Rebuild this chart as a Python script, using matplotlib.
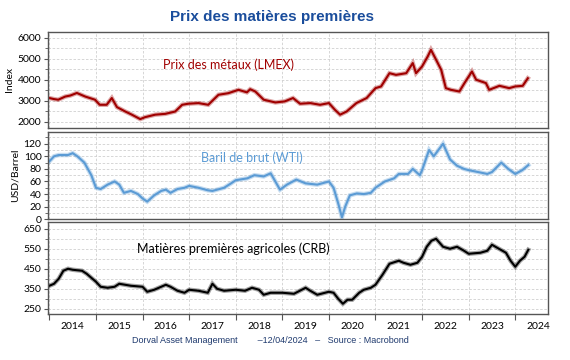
import matplotlib
matplotlib.use("Agg")
import matplotlib.pyplot as plt
from matplotlib.ticker import MultipleLocator, FixedLocator, NullFormatter

# Values (decimal years)
lmex_t = [2014.0, 2014.1, 2014.19, 2014.34, 2014.45, 2014.59, 2014.77, 2014.98, 2015.08, 2015.23,
          2015.34, 2015.45, 2015.63, 2015.77, 2015.95, 2016.05, 2016.27, 2016.49, 2016.7, 2016.85,
          2016.98, 2017.2, 2017.41, 2017.63, 2017.84, 2018.06, 2018.24, 2018.31, 2018.42, 2018.6,
          2018.85, 2019.05, 2019.23, 2019.38, 2019.6, 2019.81, 2020.0, 2020.13, 2020.24, 2020.38,
          2020.59, 2020.81, 2021.0, 2021.12, 2021.3, 2021.44, 2021.66, 2021.8, 2021.87, 2022.0,
          2022.12, 2022.19, 2022.3, 2022.41, 2022.51, 2022.62, 2022.8, 2022.91, 2023.07, 2023.16,
          2023.37, 2023.44, 2023.66, 2023.87, 2024.0, 2024.16, 2024.27]
lmex_v = [3130, 3080, 3050, 3200, 3250, 3370, 3200, 3050, 2810, 2810,
          3130, 2700, 2490, 2340, 2130, 2220, 2340, 2380, 2490, 2810,
          2860, 2890, 2810, 3285, 3360, 3520, 3400, 3550, 3440, 3050,
          2920, 2970, 3130, 2860, 2890, 2810, 2890, 2570, 2340, 2490,
          2890, 3130, 3600, 3680, 4310, 4230, 4310, 4790, 4310, 4630,
          5100, 5420, 4950, 4470, 3600, 3520, 3440, 3840, 4390, 4000,
          3840, 3520, 3710, 3600, 3680, 3710, 4070]

wti_t = [2014.0, 2014.1, 2014.2, 2014.4, 2014.5, 2014.6, 2014.75, 2014.9, 2015.0, 2015.1,
         2015.25, 2015.4, 2015.5, 2015.6, 2015.75, 2015.9, 2016.0, 2016.1, 2016.25, 2016.4,
         2016.5, 2016.6, 2016.75, 2016.9, 2017.0, 2017.2, 2017.4, 2017.5, 2017.75, 2017.9,
         2018.0, 2018.25, 2018.4, 2018.6, 2018.75, 2018.85, 2018.95, 2019.1, 2019.3, 2019.5,
         2019.75, 2020.0, 2020.1, 2020.2, 2020.28, 2020.35, 2020.45, 2020.6, 2020.75, 2020.9,
         2021.0, 2021.2, 2021.4, 2021.5, 2021.7, 2021.8, 2021.95, 2022.0, 2022.15, 2022.25,
         2022.4, 2022.45, 2022.6, 2022.75, 2022.9, 2023.0, 2023.2, 2023.4, 2023.5, 2023.7,
         2023.85, 2024.0, 2024.15, 2024.28]
wti_v = [92, 100, 102, 102, 105, 100, 90, 70, 50, 48,
         55, 60, 55, 42, 45, 40, 33, 28, 38, 45,
         47, 42, 48, 50, 53, 50, 46, 45, 50, 57,
         62, 65, 70, 68, 73, 60, 47, 55, 63, 57,
         55, 60, 50, 25, 3, 20, 38, 41, 40, 42,
         50, 60, 65, 72, 72, 80, 70, 78, 110, 100,
         115, 120, 95, 85, 80, 78, 75, 72, 75, 90,
         80, 72, 78, 86]

crb_t = [2014.0, 2014.1, 2014.2, 2014.3, 2014.4, 2014.5, 2014.7, 2014.8, 2015.0, 2015.1,
         2015.25, 2015.4, 2015.5, 2015.75, 2016.0, 2016.1, 2016.25, 2016.5, 2016.6, 2016.75,
         2016.9, 2017.0, 2017.2, 2017.4, 2017.5, 2017.6, 2017.75, 2018.0, 2018.2, 2018.35,
         2018.5, 2018.6, 2018.75, 2019.0, 2019.25, 2019.5, 2019.6, 2019.75, 2020.0, 2020.1,
         2020.2, 2020.3, 2020.4, 2020.5, 2020.65, 2020.75, 2020.9, 2021.0, 2021.15, 2021.3,
         2021.5, 2021.6, 2021.75, 2021.9, 2022.0, 2022.1, 2022.2, 2022.3, 2022.45, 2022.6,
         2022.75, 2022.9, 2023.0, 2023.25, 2023.4, 2023.5, 2023.65, 2023.8, 2023.9, 2024.0,
         2024.1, 2024.2, 2024.28]
crb_v = [365, 375, 400, 440, 450, 445, 440, 425, 385, 360,
         355, 360, 375, 365, 360, 335, 345, 370, 360, 340,
         330, 345, 340, 330, 375, 350, 340, 345, 340, 355,
         345, 320, 330, 330, 325, 355, 340, 320, 335, 330,
         300, 275, 295, 295, 330, 345, 355, 370, 420, 475,
         490, 480, 470, 480, 510, 560, 590, 600, 560, 550,
         560, 540, 525, 530, 540, 570, 550, 530, 490, 460,
         490, 510, 545]

years = list(range(2014, 2025))

fig = plt.figure(figsize=(5.7, 3.6), dpi=100)
left, width = 0.085, 0.877
ax1 = fig.add_axes([left, 0.644, width, 0.268])
ax2 = fig.add_axes([left, 0.391, width, 0.243])
ax3 = fig.add_axes([left, 0.129, width, 0.255])

tick_font = "Lato"
panels = [
    (ax1, lmex_t, lmex_v, "#a00000", (1700, 6280), 1000, 500, "Index",
     "Prix des métaux (LMEX)", 2017.85, 4690),
    (ax2, wti_t, wti_v, "#5b9bd5", (0, 139), 20, 10, "USD/Barrel",
     "Baril de brut (WTI)", 2018.35, 98),
    (ax3, crb_t, crb_v, "#000000", (226, 685), 100, 50, "",
     "Matières premières agricoles (CRB)", 2017.95, 552),
]

for ax, t, v, col, ylim, major, minor, ylab, label, lx, ly in panels:
    # soft band + core line to mimic the noisy daily series
    ax.plot(t, v, color=col, lw=3.2, alpha=0.35, solid_joinstyle="miter")
    ax.plot(t, v, color=col, lw=1.5)
    ax.set_xlim(2013.98, 2024.71)
    ax.set_ylim(*ylim)
    if ax is ax3:
        ax.yaxis.set_major_locator(FixedLocator([250, 350, 450, 550, 650]))
    else:
        ax.yaxis.set_major_locator(MultipleLocator(major))
    ax.yaxis.set_minor_locator(MultipleLocator(minor))
    ax.xaxis.set_major_locator(FixedLocator(years))
    ax.grid(True, which="both", axis="y", ls=(0, (3, 2)), color="#d0d0d0", lw=0.6)
    ax.grid(True, which="major", axis="x", ls=(0, (3, 2)), color="#d0d0d0", lw=0.6)
    ax.set_axisbelow(True)
    for s in ax.spines.values():
        s.set_color("#555555")
        s.set_linewidth(1.0)
    ax.tick_params(axis="y", which="major", length=3, labelsize=7.5, colors="#555555",
                   labelcolor="black", pad=2)
    ax.tick_params(axis="y", which="minor", length=2, colors="#555555")
    for lbl in ax.get_yticklabels():
        lbl.set_family(tick_font)
    if ylab:
        ax.set_ylabel(ylab, fontsize=7.5, family=tick_font, labelpad=3)
    ax.text(lx, ly, label, color=col, fontsize=9, family=tick_font,
            ha="center", va="center")
    if ax is not ax3:
        ax.tick_params(axis="x", which="both", length=0, labelbottom=False)

# bottom axis: ticks at year boundaries, labels at mid-year
ax3.xaxis.set_major_formatter(NullFormatter())
ax3.xaxis.set_minor_locator(FixedLocator([y + 0.5 for y in years]))
ax3.set_xticklabels([str(y) for y in years], minor=True)
ax3.tick_params(axis="x", which="major", length=4, colors="#555555")
ax3.tick_params(axis="x", which="minor", length=0, labelsize=7.5, pad=6)
for lbl in ax3.get_xticklabels(minor=True):
    lbl.set_family(tick_font)

fig.text(0.478, 0.953, "Prix des matières premières", ha="center", va="center",
         fontsize=11, fontweight="bold", color="#1a4d9c", family="Liberation Sans")
fig.text(0.475, 0.055, "Dorval Asset Management        \u201312/04/2024   \u2013   Source : Macrobond",
         ha="center", va="center", fontsize=6.5, color="#1f3a6e", family="Liberation Sans")

fig.savefig("out.png", dpi=100)
